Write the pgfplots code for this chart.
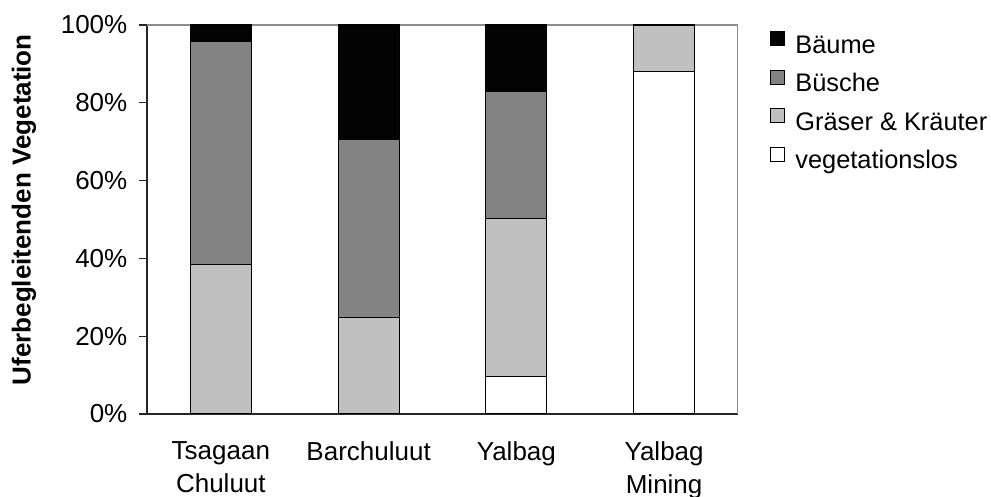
\documentclass[border=0pt]{standalone}
\usepackage{fontspec}
\setmainfont{Liberation Sans}
\usepackage{pgfplots}
\pgfplotsset{compat=1.18}
\definecolor{baeume}{HTML}{030303}
\definecolor{buesche}{HTML}{838383}
\definecolor{graeser}{HTML}{C0C0C0}
\definecolor{frame}{HTML}{8C8C8C}
\newcommand{\fs}{\fontsize{13}{16.2}\selectfont}
\newcommand{\fl}{\fontsize{12.7}{15}\selectfont}
\begin{document}
\begin{tikzpicture}
\useasboundingbox (-73.5pt,-41.5pt) rectangle (422pt,207pt);
\begin{axis}[
  scale only axis,
  width=295.5pt, height=194.5pt,
  ybar stacked,
  bar width=30.5pt,
  xmin=-0.5, xmax=3.5,
  ymin=0, ymax=100,
  axis lines*=left,
  axis line style={black!85, line width=0.6pt},
  tick align=outside,
  major tick length=4pt,
  minor tick length=4pt,
  tick style={black!85, line width=0.6pt},
  xtick={0,1,2,3},
  xticklabels={Tsagaan\\Chuluut, Barchuluut, Yalbag, Yalbag\\Mining},
  xtick style={draw=none},
  minor xtick={-0.5,0.5,1.5,2.5,3.5},
  xticklabel style={font=\fs, align=center, yshift=-6.5pt},
  ytick={0,20,40,60,80,100},
  yticklabels={0\%,20\%,40\%,60\%,80\%,100\%},
  yticklabel style={font=\fs, xshift=-2.3pt},
  ylabel={\bfseries Uferbegleitenden Vegetation},
  ylabel style={font=\fs, at={(axis description cs:-0.208,0.525)}, anchor=center},
  reverse legend,
  legend cell align=left,
  legend image code/.code={\draw[#1,draw=black,line width=0.5pt] (0pt,0.7pt) rectangle (7pt,7.7pt);},
  legend style={draw=none, fill=none, font=\fl,
    at={(rel axis cs:1.0541,0.984)}, anchor=north west,
    inner sep=0pt, outer sep=0pt, row sep=5.3pt,
    nodes={inner sep=0pt, outer sep=0pt, text height=9pt, text depth=3pt},
    /tikz/every odd column/.append style={column sep=5.2pt}},
  every axis plot/.append style={draw=black, line width=0.6pt},
]
\addplot[fill=white] coordinates {(0,0) (1,0) (2,9.7) (3,88.0)};
\addlegendentry{vegetationslos}
\addplot[fill=graeser] coordinates {(0,38.4) (1,24.9) (2,40.5) (3,12.0)};
\addlegendentry{Gräser \& Kräuter}
\addplot[fill=buesche] coordinates {(0,57.5) (1,45.6) (2,32.7) (3,0)};
\addlegendentry{Büsche}
\addplot[fill=baeume] coordinates {(0,4.1) (1,29.5) (2,17.1) (3,0)};
\addlegendentry{Bäume}
\draw[frame, line width=0.6pt] (rel axis cs:0,1) -- (rel axis cs:1,1) -- (rel axis cs:1,0);
\end{axis}
\end{tikzpicture}
\end{document}
